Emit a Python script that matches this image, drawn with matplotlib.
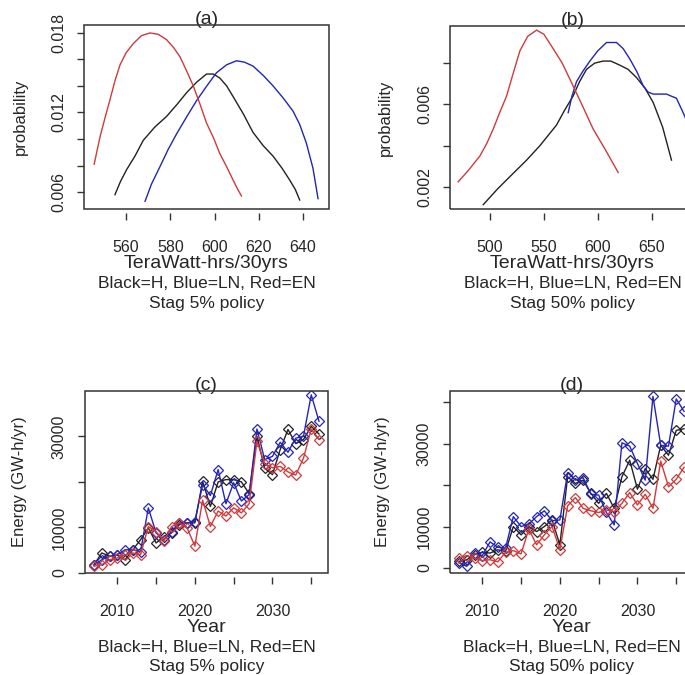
import matplotlib
matplotlib.use('Agg')
import matplotlib.pyplot as plt
from matplotlib.patches import Rectangle
from matplotlib.transforms import offset_copy

plt.rcParams['font.family'] = ['Liberation Sans', 'DejaVu Sans']

# ---- panel (a): energy distributions, Stag 5% policy ----
a_black_x = [555, 557.5, 560.3, 564, 567.8, 573, 578.3, 583, 587.4, 592, 596.4, 599.5, 602.4,
             605.5, 608.4, 613, 617.4, 622, 626.5, 630.5, 634, 636.5, 638.5]
a_black_y = [0.0058, 0.0068, 0.0077, 0.0087, 0.0099, 0.0109, 0.0117, 0.0126, 0.0135, 0.0143, 0.0149,
             0.0149, 0.0146, 0.0140, 0.0132, 0.0119, 0.0105, 0.0095, 0.0087, 0.0078, 0.0069, 0.0062, 0.0054]
a_blue_x = [568.6, 571.5, 575.3, 579, 582.9, 587.5, 591.9, 596.5, 600.9, 605.5, 609.9, 613.5, 617.4,
            622, 626.5, 631, 635.5, 638.5, 641.5, 644.5, 646.8]
a_blue_y = [0.0053, 0.0066, 0.0079, 0.0092, 0.0104, 0.0117, 0.0129, 0.0140, 0.0150, 0.0156, 0.0159,
            0.0158, 0.0155, 0.0148, 0.0140, 0.0131, 0.0121, 0.0111, 0.0097, 0.0078, 0.0055]
a_red_x = [545.6, 547, 548.3, 550.5, 552.8, 555, 557.3, 560, 563.3, 567, 570.8, 574.5, 578.3, 581.5,
           584.4, 587.5, 590.4, 593.5, 596.4, 599.5, 602.4, 605.5, 608.4, 610.5, 612.2]
a_red_y = [0.0081, 0.0092, 0.0102, 0.0116, 0.0130, 0.0144, 0.0156, 0.0165, 0.0172, 0.0178, 0.0180,
           0.0179, 0.0175, 0.0169, 0.0162, 0.0151, 0.0140, 0.0126, 0.0112, 0.0101, 0.0089, 0.0079,
           0.0069, 0.0062, 0.0057]

# ---- panel (b): energy distributions, Stag 50% policy ----
b_black_x = [493.8, 507, 521.6, 534, 546.3, 554, 561.7, 569, 577, 583, 589.5, 597, 604.9, 612,
             620.4, 628, 635.8, 643.5, 651.2, 660, 668.2]
b_black_y = [0.00114, 0.0019, 0.00266, 0.0033, 0.0040, 0.0045, 0.0050, 0.0057, 0.0064, 0.0071, 0.0077,
             0.0080, 0.0081, 0.0081, 0.0079, 0.0077, 0.0073, 0.0068, 0.0061, 0.0049, 0.0033]
b_blue_x = [572.5, 576, 580.2, 586, 592.6, 600, 608, 617.3, 623.5, 629.6, 636, 642, 646.5, 651.2,
            657, 663.6, 668, 672.8, 679, 684]
b_blue_y = [0.0056, 0.0064, 0.0071, 0.0076, 0.0081, 0.0086, 0.0090, 0.0090, 0.0087, 0.0082, 0.0076,
            0.0069, 0.0066, 0.0065, 0.0065, 0.0065, 0.0064, 0.0063, 0.0056, 0.0050]
b_red_x = [470.6, 480, 490.7, 497, 503, 509, 515.4, 521.5, 527.8, 535, 543.2, 550, 558.6, 567, 577,
           586, 595.7, 607, 618.8]
b_red_y = [0.00225, 0.0028, 0.0035, 0.0041, 0.0048, 0.0056, 0.0064, 0.0075, 0.0086, 0.0093, 0.0096,
           0.0094, 0.0087, 0.0080, 0.0069, 0.0059, 0.0048, 0.0038, 0.0027]

# ---- panels (c), (d): yearly energy (GW-h/yr) ----
years = list(range(2007, 2037))
c_black = [1800, 4400, 3700, 3900, 2900, 5100, 7300, 9900, 6600, 8000, 8800, 10600, 11000, 11000,
           20100, 14600, 20000, 20500, 20500, 20000, 17400, 30000, 23000, 21600, 27100, 31500,
           28400, 29300, 32200, 30500]
c_blue = [1700, 2900, 3700, 4000, 5100, 5100, 4700, 14300, 8800, 7300, 9100, 11000, 11000, 11300,
          19400, 17000, 22700, 15200, 19800, 15800, 17200, 31600, 24900, 25600, 28700, 26500,
          29600, 30000, 39100, 33300]
c_red = [1500, 1800, 2900, 3300, 4000, 4400, 4000, 10200, 9100, 7000, 10200, 11000, 9900, 5900,
         16000, 10200, 13600, 12500, 14300, 13200, 15200, 28900, 24000, 23100, 23400, 22200,
         21500, 25200, 31600, 29300]

d_black = [1600, 2000, 3200, 3800, 3600, 4400, 4000, 10000, 8000, 10000, 8800, 10000, 11600, 5600,
           22000, 20400, 21200, 18000, 15600, 18000, 14400, 22000, 26000, 19000, 24000, 21400,
           29600, 27200, 33200, 33600]
d_blue = [1300, 400, 3600, 3000, 6300, 5000, 4800, 12400, 10000, 10600, 12400, 13800, 11400, 11600,
          23000, 21200, 21800, 17800, 17600, 13400, 10400, 30200, 29400, 25200, 21200, 41400,
          29600, 29400, 40800, 37800]
d_red = [2400, 3000, 2400, 1800, 2000, 1500, 3800, 4200, 3400, 9400, 5600, 8000, 10000, 4400,
         15000, 17000, 14400, 13800, 13400, 14000, 13600, 15600, 18200, 15200, 17800, 14400,
         25800, 19600, 21400, 24300]

BLACK = '#222222'
BLUE = '#2424b8'
RED = '#d03a3a'
TXT = '#262626'

fig = plt.figure(figsize=(6.85, 6.75), dpi=100)
W, H = 685.0, 675.0


def make_ax(left, top, right, bottom):
    return fig.add_axes([left / W, 1 - bottom / H, (right - left) / W, (bottom - top) / H])


def style(ax, title, ylabel, xlabel, policy, xt, xtl, yt, ytl, ylab_dx):
    for s in ax.spines.values():
        s.set_visible(False)
    ax.spines['bottom'].set_position(('outward', 3))
    ax.add_patch(Rectangle((0, 0), 1, 1, transform=ax.transAxes, fill=False,
                           lw=1.1, ec='#333333', clip_on=False, zorder=5))
    ax.set_xticks(xt)
    ax.set_xticklabels(xtl)
    ax.set_yticks(yt)
    ax.set_yticklabels(ytl, rotation=90, va='center')
    ax.tick_params(axis='x', direction='out', length=5, width=1, color='#333333',
                   pad=14, labelsize=11.5, labelcolor=TXT)
    ax.tick_params(axis='y', direction='out', length=5, width=1, color='#333333',
                   pad=8, labelsize=11.5, labelcolor=TXT)
    ax.text(0.5, 1, title, transform=offset_copy(ax.transAxes, fig=fig, y=6, units='dots'),
            ha='center', va='center', fontsize=14, color=TXT)
    ax.text(0, 0.5, ylabel, transform=offset_copy(ax.transAxes, fig=fig, x=-ylab_dx, units='dots'),
            ha='center', va='center', rotation=90, fontsize=12, color=TXT)
    lines = [(xlabel, 54, 14), ('Black=H, Blue=LN, Red=EN', 74, 12.5), (policy, 94, 12.5)]
    for txt, dy, fs in lines:
        ax.text(0.5, 0, txt, transform=offset_copy(ax.transAxes, fig=fig, y=-dy, units='dots'),
                ha='center', va='center', fontsize=fs, color=TXT)


# (a)
ax = make_ax(84, 25, 329, 209)
ax.plot(a_black_x, a_black_y, color=BLACK, lw=1)
ax.plot(a_blue_x, a_blue_y, color=BLUE, lw=1)
ax.plot(a_red_x, a_red_y, color=RED, lw=1)
ax.set_xlim(541, 651.75)
ax.set_ylim(0.00472, 0.0186)
style(ax, '(a)', 'probability', 'TeraWatt-hrs/30yrs', 'Stag 5% policy',
      [560, 580, 600, 620, 640], ['560', '580', '600', '620', '640'],
      [0.006, 0.008, 0.010, 0.012, 0.014, 0.016, 0.018],
      ['0.006', '', '', '0.012', '', '', '0.018'], 64)

# (b)
ax = make_ax(450, 26, 695, 209)
ax.plot(b_black_x, b_black_y, color=BLACK, lw=1)
ax.plot(b_blue_x, b_blue_y, color=BLUE, lw=1)
ax.plot(b_red_x, b_red_y, color=RED, lw=1)
ax.set_xlim(463, 690)
ax.set_ylim(0.00093, 0.0098)
style(ax, '(b)', 'probability', 'TeraWatt-hrs/30yrs', 'Stag 50% policy',
      [500, 550, 600, 650], ['500', '550', '600', '650'],
      [0.002, 0.004, 0.006, 0.008], ['0.002', '', '0.006', ''], 65)

# (c)
ax = make_ax(85, 391, 328, 573)
mk = dict(marker='D', ms=5, mfc='none', mew=0.9, lw=1)
ax.plot(years, c_black, color=BLACK, **mk)
ax.plot(years, c_blue, color=BLUE, **mk)
ax.plot(years, c_red, color=RED, **mk)
ax.set_xlim(2005.84, 2037.16)
ax.set_ylim(0, 39950)
style(ax, '(c)', 'Energy (GW-h/yr)', 'Year', 'Stag 5% policy',
      [2010, 2015, 2020, 2025, 2030, 2035], ['2010', '', '2020', '', '2030', ''],
      [0, 10000, 20000, 30000], ['0', '10000', '', '30000'], 65)

# (d)
ax = make_ax(450, 391, 693, 573)
ax.plot(years, d_black, color=BLACK, **mk)
ax.plot(years, d_blue, color=BLUE, **mk)
ax.plot(years, d_red, color=RED, **mk)
ax.set_xlim(2005.84, 2037.16)
ax.set_ylim(-1200, 42700)
style(ax, '(d)', 'Energy (GW-h/yr)', 'Year', 'Stag 50% policy',
      [2010, 2015, 2020, 2025, 2030, 2035], ['2010', '', '2020', '', '2030', ''],
      [0, 10000, 20000, 30000, 40000], ['0', '10000', '', '30000', ''], 67)

fig.savefig('out.png', dpi=100)
